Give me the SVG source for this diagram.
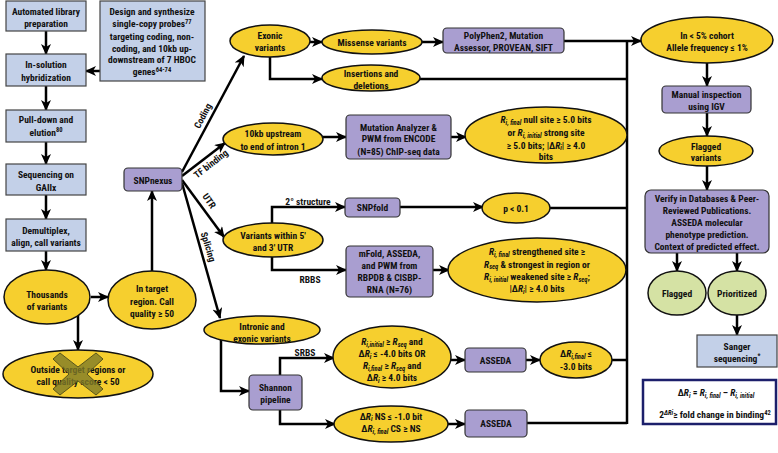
<svg xmlns="http://www.w3.org/2000/svg" width="778" height="453" viewBox="0 0 778 453">
<defs>
<style>
.t{font-family:"Roboto Condensed","Liberation Sans",sans-serif;font-weight:bold;font-size:9.5px;text-anchor:middle;fill:#111}
.s{font-size:6.5px}
.i{font-style:italic}
.y{fill:#f6cf2e;stroke:#111;stroke-width:1.5}
.g{fill:#d5e2a4;stroke:#111;stroke-width:1.5}
.p{fill:#a99ed0;stroke:#333;stroke-width:1.2}
.b{fill:#c3d0e8;stroke:#444;stroke-width:1.2}
.c path,.c line{stroke:#000;stroke-width:2.5;fill:none}
.a{marker-end:url(#ah)}
</style>
<marker id="ah" markerUnits="userSpaceOnUse" markerWidth="11" markerHeight="10" refX="10" refY="5" orient="auto">
<path d="M0,0 L11,5 L0,10 L3,5 z" fill="#000"/>
</marker>
</defs>
<rect width="778" height="453" fill="#fff"/>

<g class="c">
<line class="a" x1="46" y1="31" x2="46" y2="54"/>
<line class="a" x1="100" y1="71" x2="86" y2="71"/>
<line class="a" x1="46" y1="86" x2="46" y2="110"/>
<line class="a" x1="46" y1="142" x2="46" y2="164"/>
<line class="a" x1="46" y1="195" x2="46" y2="219"/>
<line class="a" x1="46" y1="251" x2="46" y2="270"/>
<line class="a" x1="91" y1="297" x2="108" y2="297"/>
<line class="a" x1="78" y1="315" x2="78" y2="350"/>
<line class="a" x1="152" y1="271" x2="152" y2="191"/>
<line class="a" x1="182" y1="172" x2="244" y2="56"/>
<line class="a" x1="182" y1="176" x2="225" y2="143"/>
<line class="a" x1="182" y1="180" x2="224" y2="237"/>
<line class="a" x1="182" y1="183" x2="220" y2="318"/>
<line class="a" x1="310" y1="42" x2="322" y2="42"/>
<path class="a" d="M270,57 V79 H322"/>
<line class="a" x1="422" y1="42" x2="443" y2="42"/>
<path class="a" d="M564,41 H641"/>
<path d="M420,79 H627"/>
<path d="M627,41 V424"/>
<line class="a" x1="323" y1="137" x2="346" y2="137"/>
<line class="a" x1="451" y1="137" x2="466" y2="137"/>
<path d="M625,137 H627"/>
<path class="a" d="M272,223 V207 H345"/>
<path class="a" d="M400,207 H483"/>
<path d="M550,208 H627"/>
<path class="a" d="M272,257 V270 H346"/>
<line class="a" x1="433" y1="270" x2="449" y2="270"/>
<path d="M625,270 H627"/>
<path class="a" d="M221,339 V391 H249"/>
<path class="a" d="M280,375 V358 H334"/>
<line class="a" x1="451" y1="360" x2="465" y2="360"/>
<line class="a" x1="526" y1="360" x2="540" y2="360"/>
<path d="M612,360 H627"/>
<path class="a" d="M280,410 V424 H335"/>
<line class="a" x1="448" y1="424" x2="465" y2="424"/>
<path d="M527,423 H627"/>
<line class="a" x1="707" y1="63" x2="707" y2="86"/>
<line class="a" x1="707" y1="113" x2="707" y2="136"/>
<line class="a" x1="707" y1="166" x2="707" y2="190"/>
<line class="a" x1="677" y1="253" x2="677" y2="271"/>
<line class="a" x1="737" y1="253" x2="737" y2="271"/>
<line class="a" x1="737" y1="315" x2="737" y2="335"/>
</g>

<g class="t">
<text transform="translate(203,116) rotate(-62)" y="3">Coding</text>
<text transform="translate(211,164) rotate(-38)" y="3">TF binding</text>
<text transform="translate(209,201) rotate(55)" y="3">UTR</text>
<text transform="translate(208,247) rotate(73)" y="3">Splicing</text>
<text x="308" y="205">2° structure</text>
<text x="310" y="283">RBBS</text>
<text x="305" y="356">SRBS</text>
</g>

<g id="n-autolib"><rect class="b" x="6" y="1" width="80" height="30"/><text class="t" x="46" y="14.5">Automated library</text><text class="t" x="46" y="26.5">preparation</text></g>
<g id="n-design"><rect class="b" x="100" y="1" width="105" height="80"/>
<text class="t" x="152" y="14.5">Design and synthesize</text>
<text class="t" x="152" y="27">single-copy probes<tspan class="s" dy="-3.5">77</tspan></text>
<text class="t" x="152" y="39.5">targeting coding, non-</text>
<text class="t" x="152" y="51.5">coding, and 10kb up-</text>
<text class="t" x="152" y="63">downstream of 7 HBOC</text>
<text class="t" x="152" y="75">genes<tspan class="s" dy="-3.5">64-74</tspan></text></g>
<g id="n-hyb"><rect class="b" x="6" y="54" width="80" height="32"/><text class="t" x="46" y="67.5">In-solution</text><text class="t" x="46" y="80.5">hybridization</text></g>
<g id="n-pull"><rect class="b" x="6" y="110" width="80" height="32"/><text class="t" x="46" y="122.5">Pull-down and</text><text class="t" x="46" y="135.5">elution<tspan class="s" dy="-3.5">80</tspan></text></g>
<g id="n-seq"><rect class="b" x="6" y="164" width="80" height="31"/><text class="t" x="46" y="177.5">Sequencing on</text><text class="t" x="46" y="190.5">GAIIx</text></g>
<g id="n-demux"><rect class="b" x="6" y="219" width="80" height="32"/><text class="t" x="46" y="233.5">Demultiplex,</text><text class="t" x="46" y="245.5">align, call variants</text></g>
<g id="n-thousands"><ellipse class="y" cx="47" cy="297" rx="43" ry="27"/><text class="t" x="47" y="297.5">Thousands</text><text class="t" x="47" y="309.5">of variants</text></g>
<g id="n-target"><ellipse class="y" cx="152" cy="300" rx="44" ry="29"/><text class="t" x="152" y="291.5">In target</text><text class="t" x="152" y="305">region. Call</text><text class="t" x="152" y="316.5">quality ≥ 50</text></g>
<g id="n-outside"><ellipse class="y" cx="78" cy="374" rx="75" ry="24"/><text class="t" x="78" y="372.5">Outside target regions or</text><text class="t" x="78" y="384.5">call quality score &lt; 50</text>
<polygon points="53,359 60,353 78,367 96,353 103,359 87,374 103,389 96,395 78,381 60,395 53,389 69,374" fill="#7f7a28" fill-opacity="0.8" stroke="#5a561a" stroke-width="1"/></g>
<g id="n-snpnexus"><rect class="p" x="124" y="168" width="58" height="23" rx="4"/><text class="t" x="153" y="183.5">SNPnexus</text></g>

<g id="n-exonic"><ellipse class="y" cx="270" cy="41" rx="40" ry="16"/><text class="t" x="270" y="38.5">Exonic</text><text class="t" x="270" y="50.5">variants</text></g>
<g id="n-missense"><ellipse class="y" cx="372" cy="42" rx="50" ry="12"/><text class="t" x="372" y="45.5">Missense variants</text></g>
<g id="n-indel"><ellipse class="y" cx="371" cy="78" rx="49" ry="13"/><text class="t" x="371" y="76.5">Insertions and</text><text class="t" x="371" y="88.5">deletions</text></g>
<g id="n-polyphen"><rect class="p" x="443" y="28" width="121" height="25" rx="4"/><text class="t" x="503.5" y="38.5">PolyPhen2, Mutation</text><text class="t" x="503.5" y="51">Assessor, PROVEAN, SIFT</text></g>

<g id="n-10kb"><ellipse class="y" cx="273" cy="139" rx="50" ry="16"/><text class="t" x="273" y="136.5">10kb upstream</text><text class="t" x="273" y="149.5">to end of intron 1</text></g>
<g id="n-mutan"><rect class="p" x="346" y="115" width="105" height="44" rx="4"/><text class="t" x="398.5" y="130.5">Mutation Analyzer &amp;</text><text class="t" x="398.5" y="142">PWM from ENCODE</text><text class="t" x="398.5" y="154.5">(N=85) ChIP-seq data</text></g>
<g id="n-tfres"><ellipse class="y" cx="546" cy="135" rx="81" ry="28"/>
<text class="t" x="546" y="123"><tspan class="i">R</tspan><tspan class="s i" dy="1.5">i, final</tspan><tspan dy="-1.5"> null site ≥ 5.0 bits</tspan></text>
<text class="t" x="546" y="136">or <tspan class="i">R</tspan><tspan class="s i" dy="1.5">i, initial</tspan><tspan dy="-1.5"> strong site</tspan></text>
<text class="t" x="546" y="148.5">≥ 5.0 bits; |Δ<tspan class="i">R</tspan><tspan class="s i" dy="1.5">i</tspan><tspan dy="-1.5">| ≥ 4.0</tspan></text>
<text class="t" x="546" y="160">bits</text></g>

<g id="n-utr"><ellipse class="y" cx="273" cy="240" rx="50" ry="17"/><text class="t" x="273" y="238.5">Variants within 5'</text><text class="t" x="273" y="250.5">and 3' UTR</text></g>
<g id="n-snpfold"><rect class="p" x="345" y="198" width="55" height="19" rx="4"/><text class="t" x="372.5" y="211">SNPfold</text></g>
<g id="n-p"><ellipse class="y" cx="516" cy="208" rx="34" ry="15"/><text class="t" x="516" y="211.5">p &lt; 0.1</text></g>
<g id="n-mfold"><rect class="p" x="346" y="246" width="87" height="51" rx="4"/><text class="t" x="389.5" y="256.5">mFold,  ASSEDA,</text><text class="t" x="389.5" y="268.5">and PWM from</text><text class="t" x="389.5" y="280.5">RBPDB &amp; CISBP-</text><text class="t" x="389.5" y="292.5">RNA (N=76)</text></g>
<g id="n-rbbsres"><ellipse class="y" cx="537" cy="270" rx="89" ry="32"/>
<text class="t" x="537" y="255"><tspan class="i">R</tspan><tspan class="s i" dy="1.5">i, final</tspan><tspan dy="-1.5"> strengthened site ≥</tspan></text>
<text class="t" x="537" y="267.5"><tspan class="i">R</tspan><tspan class="s i" dy="1.5">seq</tspan><tspan dy="-1.5"> &amp; strongest in region or</tspan></text>
<text class="t" x="537" y="280"><tspan class="i">R</tspan><tspan class="s i" dy="1.5">i, initial</tspan><tspan dy="-1.5"> weakened site ≥ </tspan><tspan class="i">R</tspan><tspan class="s i" dy="1.5">seq</tspan><tspan dy="-1.5">;</tspan></text>
<text class="t" x="537" y="292">|Δ<tspan class="i">R</tspan><tspan class="s i" dy="1.5">i</tspan><tspan dy="-1.5">| ≥ 4.0 bits</tspan></text></g>

<g id="n-intronic"><ellipse class="y" cx="262" cy="330" rx="58" ry="14"/><text class="t" x="262" y="330">Intronic and</text><text class="t" x="262" y="341.5">exonic variants</text></g>
<g id="n-shannon"><rect class="p" x="249" y="375" width="53" height="35" rx="4"/><text class="t" x="275.5" y="391">Shannon</text><text class="t" x="275.5" y="402.5">pipeline</text></g>
<g id="n-srbs"><ellipse class="y" cx="392" cy="357" rx="59" ry="31"/>
<text class="t" x="392" y="345"><tspan class="i">R</tspan><tspan class="s i" dy="1.5">i,initial</tspan><tspan dy="-1.5"> ≥ </tspan><tspan class="i">R</tspan><tspan class="s i" dy="1.5">seq</tspan><tspan dy="-1.5"> and</tspan></text>
<text class="t" x="392" y="357">Δ<tspan class="i">R</tspan><tspan class="s i" dy="1.5">i</tspan><tspan dy="-1.5"> ≤ -4.0 bits OR</tspan></text>
<text class="t" x="392" y="369"><tspan class="i">R</tspan><tspan class="s i" dy="1.5">i,final</tspan><tspan dy="-1.5"> ≥  </tspan><tspan class="i">R</tspan><tspan class="s i" dy="1.5">seq</tspan><tspan dy="-1.5"> and</tspan></text>
<text class="t" x="392" y="381">Δ<tspan class="i">R</tspan><tspan class="s i" dy="1.5">i</tspan><tspan dy="-1.5"> ≥ 4.0 bits</tspan></text></g>
<g id="n-asseda1"><rect class="p" x="465" y="348" width="61" height="24" rx="4"/><text class="t" x="495.5" y="363.5">ASSEDA</text></g>
<g id="n-drfinal"><ellipse class="y" cx="576" cy="360" rx="36" ry="18"/><text class="t" x="576" y="357">Δ<tspan class="i">R</tspan><tspan class="s i" dy="1.5">i,final</tspan><tspan dy="-1.5"> ≤</tspan></text><text class="t" x="576" y="370">-3.0 bits</text></g>
<g id="n-ns"><ellipse class="y" cx="391" cy="424" rx="57" ry="18"/><text class="t" x="391" y="419.5">Δ<tspan class="i">R</tspan><tspan class="s i" dy="1.5">i</tspan><tspan dy="-1.5"> NS ≤ -1.0 bit</tspan></text><text class="t" x="391" y="432">Δ<tspan class="i">R</tspan><tspan class="s i" dy="1.5">i, final</tspan><tspan dy="-1.5"> CS ≥ NS</tspan></text></g>
<g id="n-asseda2"><rect class="p" x="465" y="410" width="62" height="27" rx="4"/><text class="t" x="496" y="427">ASSEDA</text></g>

<g id="n-cohort"><ellipse class="y" cx="707" cy="40" rx="66" ry="23"/><text class="t" x="707" y="38.5">In &lt; 5% cohort</text><text class="t" x="707" y="51">Allele frequency ≤ 1%</text></g>
<g id="n-igv"><rect class="p" x="662" y="86" width="89" height="27" rx="4"/><text class="t" x="706.5" y="97.5">Manual inspection</text><text class="t" x="706.5" y="110">using IGV</text></g>
<g id="n-flagvar"><ellipse class="y" cx="706" cy="151" rx="47" ry="15"/><text class="t" x="706" y="149.5">Flagged</text><text class="t" x="706" y="161">variants</text></g>
<g id="n-verify"><rect class="p" x="645" y="190" width="124" height="63" rx="6"/>
<text class="t" x="707" y="201.5">Verify in Databases &amp; Peer-</text>
<text class="t" x="707" y="213.5">Reviewed Publications.</text>
<text class="t" x="707" y="225.5">ASSEDA molecular</text>
<text class="t" x="707" y="237.5">phenotype prediction.</text>
<text class="t" x="707" y="249.5">Context of predicted effect.</text></g>
<g id="n-flagged"><ellipse class="g" cx="677" cy="293" rx="29" ry="22"/><text class="t" x="677" y="296.5">Flagged</text></g>
<g id="n-prior"><ellipse class="g" cx="737" cy="293" rx="29" ry="22"/><text class="t" x="737" y="296.5">Prioritized</text></g>
<g id="n-sanger"><rect class="b" x="697" y="335" width="80" height="32"/><text class="t" x="737" y="349.5">Sanger</text><text class="t" x="737" y="361.5">sequencing<tspan class="s" dy="-3.5">*</tspan></text></g>
<g id="legend"><rect x="643" y="380" width="133" height="44" fill="#fff" stroke="#1c1f6b" stroke-width="2.5"/>
<text class="t" x="716" y="396">Δ<tspan class="i">R</tspan><tspan class="s i" dy="1.5">i</tspan><tspan dy="-1.5"> = </tspan><tspan class="i">R</tspan><tspan class="s i" dy="1.5">i, final</tspan><tspan dy="-1.5"> – </tspan><tspan class="i">R</tspan><tspan class="s i" dy="1.5">i, initial</tspan></text>
<text class="t" x="715" y="418">2<tspan class="s i" dy="-3.5">ΔRi</tspan><tspan dy="3.5">≥ fold change in binding</tspan><tspan class="s" dy="-3.5">42</tspan></text></g>
</svg>
